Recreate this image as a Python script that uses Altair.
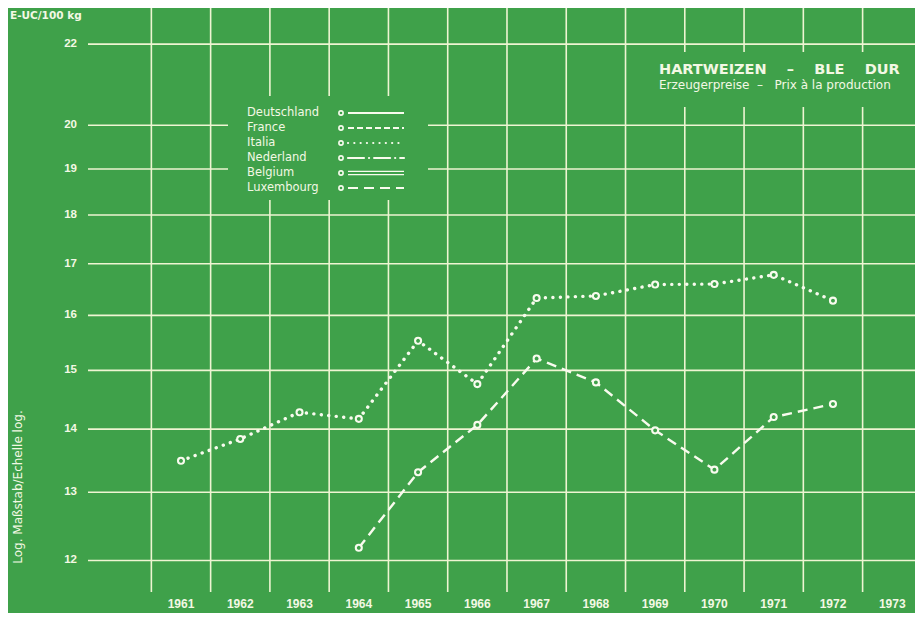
import altair as alt
import pandas as pd

# ---------------- data ----------------
years = list(range(1961, 1974))                      # x-axis labels
italia_years = list(range(1961, 1973))
italia_prices = [13.49, 13.84, 14.28, 14.17, 15.53, 14.76, 16.33, 16.37, 16.59, 16.60, 16.78, 16.28]
france_years = list(range(1964, 1973))
france_prices = [12.18, 13.31, 14.07, 15.21, 14.79, 13.98, 13.35, 14.20, 14.42]
y_ticks = [12, 13, 14, 15, 16, 17, 18, 19, 20, 22]
legend_countries = ["Deutschland", "France", "Italia", "Nederland", "Belgium", "Luxembourg"]

NB = "\u00a0"
title_main = "HARTWEIZEN" + NB * 4 + "–" + NB * 4 + "BLE" + NB * 4 + "DUR"
title_sub = "Erzeugerpreise" + NB * 2 + "–" + NB * 3 + "Prix à la production"
unit_text = "E-UC/100 kg"
axis_note = "Log. Maßstab/Echelle log."

# ---------------- style ----------------
BG = "#3fa14a"
GRID = "#eef5d2"
LINE = "#f8fbee"
TXT = "#f3f8e4"
FONT = "DejaVu Sans"
NUMFONT = "Liberation Sans"

W, H = 827, 584
x_scale = alt.Scale(domain=[1959.431, 1973.384], nice=False, zero=False)
y_scale = alt.Scale(type="log", domain=[11.564, 22.953], nice=False)

grid_x = [y - 0.5 for y in years]  # band boundaries between years

# ---------------- gridlines ----------------
grid_h = alt.Chart(pd.DataFrame({"v": y_ticks})).mark_rule(color=GRID, strokeWidth=1.6).encode(
    y=alt.Y("v:Q", scale=y_scale, axis=None))
grid_v = alt.Chart(pd.DataFrame({"g": grid_x})).mark_rule(color=GRID, strokeWidth=1.6).encode(
    x=alt.X("g:Q", scale=x_scale, axis=None))

# tick labels, placed through the same scales
y_labels = alt.Chart(pd.DataFrame({"v": y_ticks})).mark_text(
    align="right", baseline="middle", font=NUMFONT, fontSize=11.5, fontWeight="bold", color=TXT).encode(
    y=alt.Y("v:Q", scale=y_scale, axis=None), x=alt.value(-11), text=alt.Text("v:Q", format="d"))
x_labels = alt.Chart(pd.DataFrame({"yr": years})).mark_text(
    align="center", baseline="alphabetic", font=NUMFONT, fontSize=12, fontWeight="bold", color=TXT).encode(
    x=alt.X("yr:Q", scale=x_scale, axis=None), y=alt.value(H + 16), text=alt.Text("yr:Q", format="d"))

one = pd.DataFrame({"k": [0]})

# masks behind legend and title block
mask_legend = alt.Chart(one).mark_rect(color=BG).encode(
    x=alt.value(140), x2=alt.value(340), y=alt.value(88), y2=alt.value(192))
mask_title = alt.Chart(one).mark_rect(color=BG).encode(
    x=alt.value(557), x2=alt.value(W), y=alt.value(44), y2=alt.value(99))

# ---------------- series ----------------
df = pd.DataFrame({
    "country": ["Italia"] * len(italia_years) + ["France"] * len(france_years),
    "year": italia_years + france_years,
    "price": italia_prices + france_prices,
})
enc = dict(x=alt.X("year:Q", scale=x_scale, axis=None),
           y=alt.Y("price:Q", scale=y_scale, axis=None))

italia_line = alt.Chart(df).transform_filter(alt.datum.country == "Italia").mark_line(
    color=LINE, strokeWidth=3.4, strokeDash=[0.1, 7.4], strokeCap="round").encode(**enc)
france_line = alt.Chart(df).transform_filter(alt.datum.country == "France").mark_line(
    color=LINE, strokeWidth=2.4, strokeDash=[10, 6]).encode(**enc)
points = alt.Chart(df).mark_point(shape="circle", filled=True, fill=BG, stroke=LINE,
                                  strokeWidth=2.1, size=36, opacity=1).encode(**enc)

# ---------------- legend ----------------
dashes = {
    "Deutschland": [1, 0],
    "France": [6, 3],
    "Italia": [0.1, 6.2],
    "Nederland": [16, 5, 0.1, 5],
    "Luxembourg": [10, 6],
}
legend_layers = []
for i, c in enumerate(legend_countries):
    ry = 105 + 15 * i
    row = pd.DataFrame({"country": [c]})
    legend_layers.append(alt.Chart(row).mark_text(
        align="left", baseline="middle", font=FONT, fontSize=11.5, color=TXT).encode(
        text="country:N", x=alt.value(159), y=alt.value(ry)))
    legend_layers.append(alt.Chart(row).mark_point(
        shape="circle", filled=True, fill=BG, stroke=LINE, strokeWidth=1.6, size=18, opacity=1).encode(
        x=alt.value(253), y=alt.value(ry)))
    if c == "Belgium":
        for dy in (-1.6, 1.6):
            legend_layers.append(alt.Chart(row).mark_rule(color=LINE, strokeWidth=1.3).encode(
                x=alt.value(260), x2=alt.value(316), y=alt.value(ry + dy)))
    else:
        extra = {"strokeCap": "round", "strokeWidth": 2.2} if c in ("Italia", "Nederland") else {"strokeWidth": 1.8}
        legend_layers.append(alt.Chart(row).mark_rule(color=LINE, strokeDash=dashes[c], **extra).encode(
            x=alt.value(260), x2=alt.value(316), y=alt.value(ry)))

# ---------------- texts ----------------
txt_main = alt.Chart(one).mark_text(align="left", baseline="alphabetic", font=FONT, fontSize=14.5,
                                    fontWeight="bold", color=TXT).encode(
    x=alt.value(571), y=alt.value(66), text=alt.value(title_main))
txt_sub = alt.Chart(one).mark_text(align="left", baseline="alphabetic", font=FONT, fontSize=12,
                                   color=TXT).encode(
    x=alt.value(571), y=alt.value(81), text=alt.value(title_sub))
txt_unit = alt.Chart(one).mark_text(align="left", baseline="alphabetic", font=FONT, fontSize=10.5,
                                    fontWeight="bold", color=TXT).encode(
    x=alt.value(-78), y=alt.value(11), text=alt.value(unit_text))
txt_axis = alt.Chart(one).mark_text(align="center", baseline="middle", font=FONT, fontSize=12,
                                    angle=270, color=TXT).encode(
    x=alt.value(-70), y=alt.value(479), text=alt.value(axis_note))

chart = alt.layer(
    grid_h, grid_v, mask_legend, mask_title,
    italia_line, france_line, points,
    *legend_layers,
    y_labels, x_labels,
    txt_main, txt_sub, txt_unit, txt_axis,
).properties(
    width=W, height=H,
    padding={"left": 80, "top": 0, "right": 0, "bottom": 21},
    autosize=alt.AutoSizeParams(type="none"),
).configure(background=BG).configure_view(stroke=None)

chart.save("out.html", embed_options={"renderer": "svg", "actions": False})
